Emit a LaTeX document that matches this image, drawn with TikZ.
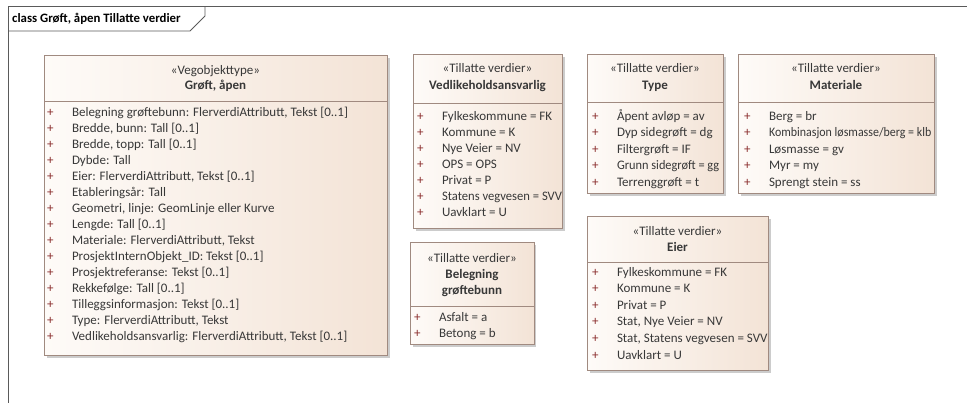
\documentclass[tikz,border=0pt]{standalone}
\usepackage{fontspec}
\setmainfont{Carlito}
\usepackage{xcolor}
\definecolor{framecol}{HTML}{5A5A5A}
\definecolor{umlline}{HTML}{A08A80}
\definecolor{umlleft}{HTML}{FEFBF8}
\definecolor{umlright}{HTML}{F3E3D6}
\definecolor{umltext}{HTML}{383838}
\definecolor{umlplus}{HTML}{8B2E2E}
\newcommand{\pl}{\makebox[25pt][l]{\textcolor{umlplus}{+}}}

\begin{document}
\begin{tikzpicture}[x=1pt,y=-1pt]
	\tikzset{every node/.style={inner sep=0pt, text=umltext, font=\fontsize{13}{15}\selectfont, text height=9pt, text depth=2.7pt}}
	\tikzset{attr/.style={anchor=west}}
	\tikzset{hdr/.style={anchor=center}}
	\tikzset{hdrname/.style={anchor=center, font=\fontsize{13}{15}\selectfont\bfseries}}
	\tikzset{umlbox/.style={draw=umlline, line width=0.8pt, left color=umlleft, right color=umlright, anchor=north west}}
	\tikzset{boxshadow/.style={fill=black!20}}
	\useasboundingbox (0,0) rectangle (967,403);
	% frame
	\draw [framecol, line width=1pt] (8,403) -- (8,7) -- (967,7);
	\draw [framecol, line width=0.8pt] (8,31) -- (190,31) -- (205,16) -- (205,7);
	\node [attr, font=\fontsize{12.8}{15}\selectfont\bfseries, text=black] (title) at (12,19) {class Grøft, åpen Tillatte verdier};
	% Grøft, åpen
	\fill [boxshadow] (47,58) rectangle (390,358);
	\node [umlbox, minimum width=343pt, minimum height=300pt] (groft) at (44,55) {};
	\draw [umlline, line width=0.8pt] (44,101) -- (387,101);
	\node [hdr] (groftst) at (215.5,71) {«Vegobjekttype»};
	\node [hdrname] (groftnm) at (215.5,86) {Grøft, åpen};
	\node [attr] (g1) at (46.8,113) {\pl Belegning grøftebunn: FlerverdiAttributt, Tekst [0..1]};
	\node [attr] (g2) at (46.8,129) {\pl Bredde, bunn: Tall [0..1]};
	\node [attr] (g3) at (46.8,145) {\pl Bredde, topp: Tall [0..1]};
	\node [attr] (g4) at (46.8,161) {\pl Dybde: Tall};
	\node [attr] (g5) at (46.8,177) {\pl Eier: FlerverdiAttributt, Tekst [0..1]};
	\node [attr] (g6) at (46.8,193) {\pl Etableringsår: Tall};
	\node [attr] (g7) at (46.8,209) {\pl Geometri, linje: GeomLinje eller Kurve};
	\node [attr] (g8) at (46.8,225) {\pl Lengde: Tall [0..1]};
	\node [attr] (g9) at (46.8,241) {\pl Materiale: FlerverdiAttributt, Tekst};
	\node [attr] (g10) at (46.8,257) {\pl ProsjektInternObjekt\_ID: Tekst [0..1]};
	\node [attr] (g11) at (46.8,273) {\pl Prosjektreferanse: Tekst [0..1]};
	\node [attr] (g12) at (46.8,289) {\pl Rekkefølge: Tall [0..1]};
	\node [attr] (g13) at (46.8,305) {\pl Tilleggsinformasjon: Tekst [0..1]};
	\node [attr] (g14) at (46.8,321) {\pl Type: FlerverdiAttributt, Tekst};
	\node [attr] (g15) at (46.8,337) {\pl Vedlikeholdsansvarlig: FlerverdiAttributt, Tekst [0..1]};
	% Vedlikeholdsansvarlig
	\fill [boxshadow] (416,57) rectangle (565,231);
	\node [umlbox, minimum width=149pt, minimum height=174pt] (vedl) at (413,54) {};
	\draw [umlline, line width=0.8pt] (413,103) -- (562,103);
	\node [hdr] (vedlst) at (487.5,69) {«Tillatte verdier»};
	\node [hdrname] (vedlnm) at (487.5,86) {Vedlikeholdsansvarlig};
	\begin{scope}
		\clip (vedl.north west) rectangle (vedl.south east);
		\node [attr] (v1) at (416.8,117) {\pl Fylkeskommune = FK};
		\node [attr] (v2) at (416.8,133) {\pl Kommune = K};
		\node [attr] (v3) at (416.8,149) {\pl Nye Veier = NV};
		\node [attr] (v4) at (416.8,165) {\pl OPS = OPS};
		\node [attr] (v5) at (416.8,181) {\pl Privat = P};
		\node [attr] (v6) at (416.8,197) {\pl \scalebox{0.97}[1]{Statens vegvesen = SVV}};
		\node [attr] (v7) at (416.8,213) {\pl Uavklart = U};
	\end{scope}
	% Belegning grøftebunn
	\fill [boxshadow] (413,245) rectangle (536,347);
	\node [umlbox, minimum width=124pt, minimum height=102pt] (bel) at (410,242) {};
	\draw [umlline, line width=0.8pt] (410,306) -- (534,306);
	\node [hdr] (belst) at (472,259) {«Tillatte verdier»};
	\node [hdrname] (belnm1) at (472,275) {Belegning};
	\node [hdrname] (belnm2) at (472,291) {grøftebunn};
	\node [attr] (b1) at (413.8,318) {\pl Asfalt = a};
	\node [attr] (b2) at (413.8,334) {\pl Betong = b};
	% Type
	\fill [boxshadow] (590,57) rectangle (726,196);
	\node [umlbox, minimum width=136pt, minimum height=139pt] (type) at (587,54) {};
	\draw [umlline, line width=0.8pt] (587,102) -- (723,102);
	\node [hdr] (typest) at (655,69) {«Tillatte verdier»};
	\node [hdrname] (typenm) at (655,86) {Type};
	\begin{scope}
		\clip (type.north west) rectangle (type.south east);
		\node [attr] (t1) at (591.8,117) {\pl Åpent avløp = av};
		\node [attr] (t2) at (591.8,133.5) {\pl Dyp sidegrøft = dg};
		\node [attr] (t3) at (591.8,150) {\pl Filtergrøft = IF};
		\node [attr] (t4) at (591.8,166.5) {\pl \scalebox{0.95}[1]{Grunn sidegrøft = gg}};
		\node [attr] (t5) at (591.8,183) {\pl Terrenggrøft = t};
	\end{scope}
	% Materiale
	\fill [boxshadow] (741,57) rectangle (937,196);
	\node [umlbox, minimum width=196pt, minimum height=139pt] (mat) at (738,54) {};
	\draw [umlline, line width=0.8pt] (738,102) -- (934,102);
	\node [hdr] (matst) at (836,69) {«Tillatte verdier»};
	\node [hdrname] (matnm) at (836,86) {Materiale};
	\begin{scope}
		\clip (mat.north west) rectangle (mat.south east);
		\node [attr] (m1) at (743.8,117) {\pl Berg = br};
		\node [attr] (m2) at (743.8,133.5) {\pl \scalebox{0.92}[1]{Kombinasjon løsmasse/berg = klb}};
		\node [attr] (m3) at (743.8,150) {\pl Løsmasse = gv};
		\node [attr] (m4) at (743.8,166.5) {\pl Myr = my};
		\node [attr] (m5) at (743.8,183) {\pl Sprengt stein = ss};
	\end{scope}
	% Eier
	\fill [boxshadow] (590,219) rectangle (771,373);
	\node [umlbox, minimum width=181pt, minimum height=154pt] (eier) at (587,216) {};
	\draw [umlline, line width=0.8pt] (587,262) -- (768,262);
	\node [hdr] (eierst) at (677.5,232) {«Tillatte verdier»};
	\node [hdrname] (eiernm) at (677.5,248) {Eier};
	\node [attr] (e1) at (591.8,273) {\pl Fylkeskommune = FK};
	\node [attr] (e2) at (591.8,289.6) {\pl Kommune = K};
	\node [attr] (e3) at (591.8,306.2) {\pl Privat = P};
	\node [attr] (e4) at (591.8,322.8) {\pl Stat, Nye Veier = NV};
	\node [attr] (e5) at (591.8,339.4) {\pl Stat, Statens vegvesen = SVV};
	\node [attr] (e6) at (591.8,356) {\pl Uavklart = U};
\end{tikzpicture}
\end{document}
